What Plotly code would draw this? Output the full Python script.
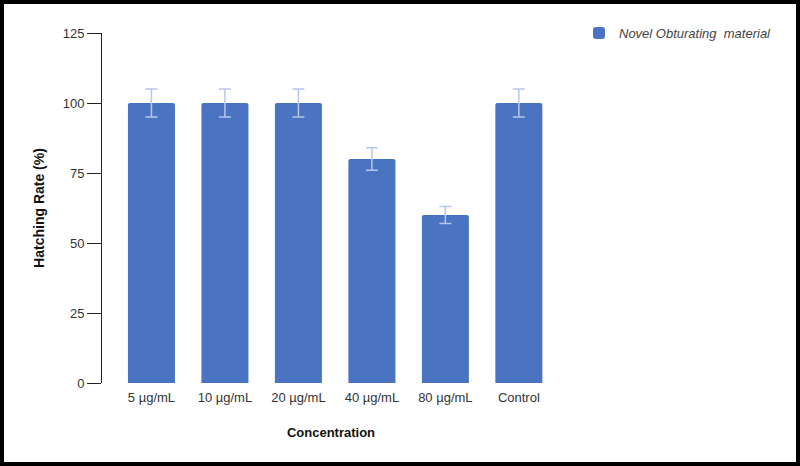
import plotly.graph_objects as go

categories = ["5 µg/mL", "10 µg/mL", "20 µg/mL", "40 µg/mL", "80 µg/mL", "Control"]
hatching_rate = [100, 100, 100, 80, 60, 100]
error = [5, 5, 5, 4, 3, 5]
series_name = "<i>Novel Obturating  material</i>"
y_ticks = [0, 25, 50, 75, 100, 125]

W, H = 800, 466
L, R, T, B = 102, 240, 33, 83
pw = W - L - R
ph = H - T - B

fig = go.Figure()
fig.add_trace(go.Bar(
    x=categories, y=hatching_rate, name=series_name,
    marker=dict(color="#4a74c2", cornerradius=2, line=dict(width=0)),
    error_y=dict(type="data", array=error, visible=True, color="#b8c6ec", thickness=1.5, width=6),
    showlegend=True,
))

def px_x(px):
    return (px - L) / pw

def px_y(py):
    return (H - B - py) / ph

fig.update_layout(
    width=W, height=H,
    margin=dict(l=L, r=R, t=T, b=B),
    paper_bgcolor="white", plot_bgcolor="white",
    font=dict(family="Liberation Sans, Arial, sans-serif", size=13, color="#333"),
    bargap=0.36,
    xaxis=dict(
        range=[-0.673, 5.56], showline=False, ticks="outside", ticklen=2,
        tickcolor="rgba(0,0,0,0)", showgrid=False,
        tickfont=dict(size=13, color="#333"),
        title=dict(text="<b>Concentration</b>", font=dict(size=13, color="#111"), standoff=24),
    ),
    yaxis=dict(
        range=[0, 125], tickvals=y_ticks, showline=True, linecolor="#222", linewidth=1,
        ticks="outside", ticklen=14, tickcolor="#222", showgrid=False, zeroline=False,
        tickfont=dict(size=13, color="#333"),
        title=dict(text="<b>Hatching Rate (%)</b>", font=dict(size=14, color="#111"), standoff=14),
    ),
    legend=dict(
        x=px_x(579), y=px_y(18), xanchor="left", yanchor="top",
        font=dict(size=13, color="#444"), bgcolor="rgba(0,0,0,0)",
        itemwidth=30,
    ),
    shapes=[dict(
        type="rect", xref="paper", yref="paper",
        x0=px_x(0), x1=px_x(W), y0=px_y(H), y1=px_y(0),
        line=dict(color="black", width=8), fillcolor="rgba(0,0,0,0)", layer="above",
    )],
)

fig.write_html(
    "out.html",
    config={"displayModeBar": False},
    post_script="document.body.style.margin='0';document.body.style.overflow='hidden';",
)
